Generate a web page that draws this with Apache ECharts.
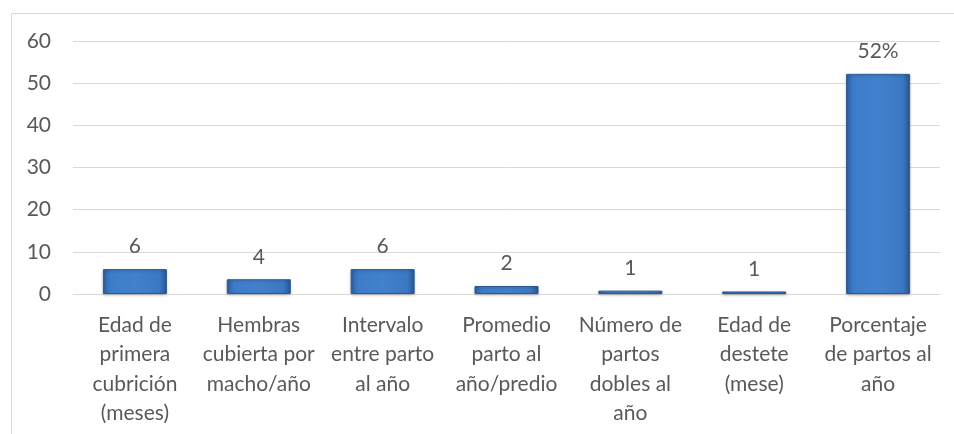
<!DOCTYPE html>
<html>
<head>
<meta charset="utf-8">
<script src="https://cdn.jsdelivr.net/npm/echarts@6/dist/echarts.min.js"></script>
<style>
    html, body { margin: 0; padding: 0; background: #fff; }
    #chart { width: 954px; height: 434px; }
</style>
</head>
<body>
<div id="chart"></div>
<script>
// categorías y valores
var categories = [
    "Edad de\nprimera\ncubrición\n(meses)",
    "Hembras\ncubierta por\nmacho/año",
    "Intervalo\nentre parto\nal año",
    "Promedio\nparto al\naño/predio",
    "Número de\npartos\ndobles al\naño",
    "Edad de\ndestete\n(mese)",
    "Porcentaje\nde partos al\naño"
];
var values = [5.9, 3.5, 5.9, 1.9, 0.8, 0.6, 52.2];
var valueLabels = ["6", "4", "6", "2", "1", "1", "52%"];

var chart = echarts.init(document.getElementById("chart"));
var textColor = "#595959";
var fontFamily = "Lato, 'Open Sans', sans-serif";

chart.setOption({
    animation: false,
    graphic: [
        {
            type: "rect",
            left: 9,
            top: 11,
            shape: { width: 1000, height: 500 },
            style: { fill: "none", stroke: "#d9d9d9", lineWidth: 1 },
            silent: true
        }
    ],
    grid: {
        left: 73,
        right: 14,
        top: 41,
        bottom: 140
    },
    xAxis: {
        type: "category",
        data: categories,
        axisTick: { show: false },
        axisLine: { show: true, lineStyle: { color: "#d9d9d9", width: 1 } },
        axisLabel: {
            color: textColor,
            fontSize: 21,
            fontFamily: fontFamily,
            lineHeight: 29.5,
            margin: 16,
            interval: 0
        }
    },
    yAxis: {
        type: "value",
        min: 0,
        max: 60,
        interval: 10,
        axisLine: { show: false },
        axisTick: { show: false },
        splitLine: { lineStyle: { color: "#d9d9d9", width: 1 } },
        axisLabel: {
            color: textColor,
            fontSize: 21,
            fontFamily: fontFamily,
            margin: 22
        }
    },
    series: [
        {
            type: "bar",
            data: values,
            barWidth: 64,
            itemStyle: {
                color: new echarts.graphic.LinearGradient(0, 0, 1, 0, [
                    { offset: 0, color: "#2d5f9f" },
                    { offset: 0.12, color: "#3d7cc9" },
                    { offset: 0.5, color: "#4281cd" },
                    { offset: 0.88, color: "#3b78c4" },
                    { offset: 1, color: "#2a5893" }
                ]),
                borderColor: "#2c5a94",
                borderWidth: 1,
                shadowColor: "rgba(0,0,0,0.25)",
                shadowBlur: 3,
                shadowOffsetY: 1
            },
            label: {
                show: true,
                position: "top",
                distance: 12,
                color: textColor,
                fontSize: 21,
                fontFamily: fontFamily,
                formatter: function (p) {
                    return valueLabels[p.dataIndex];
                }
            }
        }
    ]
});
</script>
</body>
</html>
